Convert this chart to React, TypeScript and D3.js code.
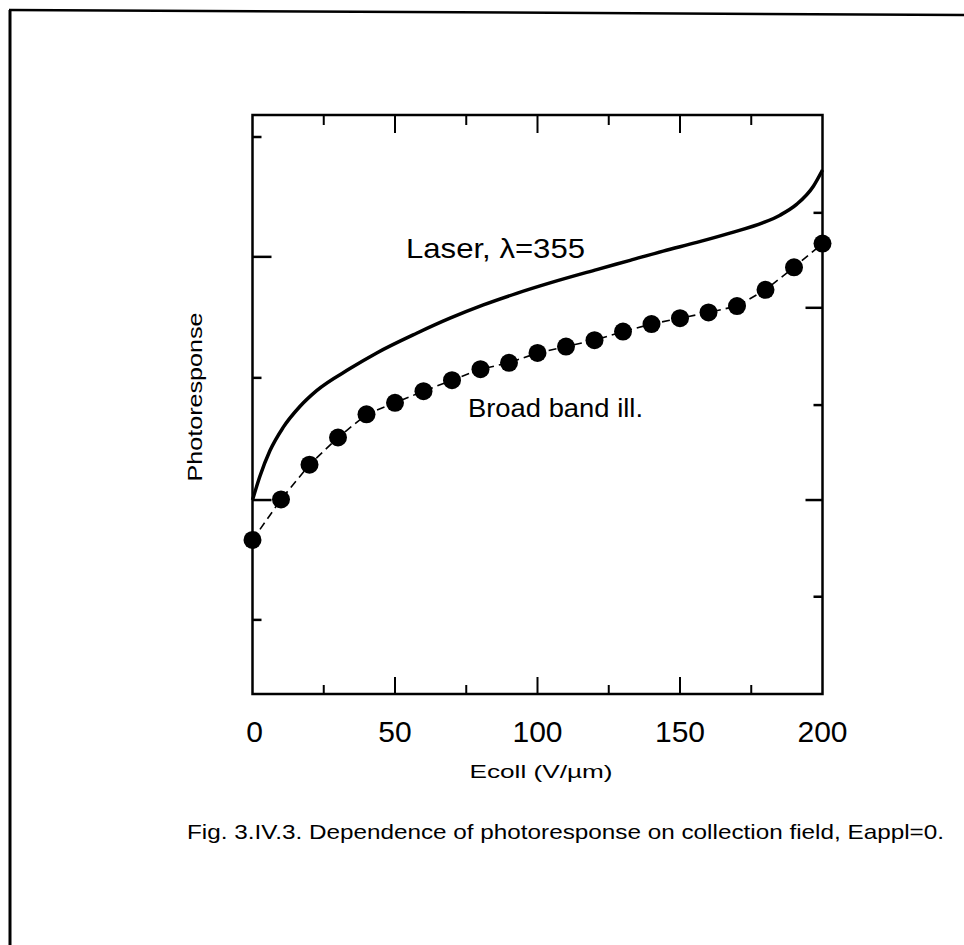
import React from "react";
import * as d3 from "d3";

// Laser (solid curve), x in V/um, y in arbitrary photoresponse units
const laserX = [0, 2.6, 6.1, 10.7, 16.7, 22.5, 34.2, 43.6, 57.6, 69.3, 81, 92.7, 104.4, 120.8, 132.5, 144.1, 155.9, 167.5, 179.2, 185.1, 191, 196.8, 200];
const laserY = [33.5, 37.6, 42.0, 46.0, 49.7, 52.4, 56.2, 58.9, 62.3, 64.9, 67.2, 69.2, 71.0, 73.3, 74.9, 76.5, 78.0, 79.6, 81.4, 82.7, 84.6, 87.7, 90.5];

// Broad band illumination (dots + dashed line)
const broadX = [0, 10, 20, 30, 40, 50, 60, 70, 80, 90, 100, 110, 120, 130, 140, 150, 160, 170, 180, 190, 200];
const broadY = [26.6, 33.6, 39.6, 44.3, 48.3, 50.3, 52.3, 54.2, 56.1, 57.2, 58.9, 60.0, 61.1, 62.6, 63.9, 64.9, 65.9, 67.0, 69.8, 73.7, 77.8];

const xTicks = [0, 25, 50, 75, 100, 125, 150, 175, 200];
const xTickLabels = ["0", "50", "100", "150", "200"];
const leftTicks = [12.8, 33.5, 54.6, 75.5, 96.2];
const leftMajor = [false, true, false, true, false];
const rightTicks = [16.8, 33.5, 49.9, 66.7, 83.1];
const rightMajor = [false, true, false, true, false];

const xLabel = "Ecoll  (V/\u00b5m)";
const yLabel = "Photoresponse";
const laserLabel = "Laser, \u03bb=355";
const broadLabel = "Broad band ill.";
const caption = "Fig. 3.IV.3. Dependence of photoresponse on collection field, Eappl=0.";

const FONT = "'Liberation Sans', Arial, Helvetica, sans-serif";

export default function App() {
  const W = 964, H = 945;
  const left = 252.5, right = 822.5, top = 115, bottom = 694;
  const x = d3.scaleLinear().domain([0, 200]).range([left, right]);
  const y = d3.scaleLinear().domain([0, 100]).range([bottom, top]);

  const laserLine = d3.line<number>()
    .x((_, i) => x(laserX[i]))
    .y((d) => y(d))
    .curve(d3.curveMonotoneX)(laserY) || "";

  const broadLine = d3.line<number>()
    .x((_, i) => x(broadX[i]))
    .y((d) => y(d))(broadY) || "";

  return (
    <svg width={W} height={H} style={{ position: "absolute", left: 0, top: 0, background: "#fff" }}
      fontFamily={FONT}>
      <rect x={0} y={0} width={W} height={H} fill="#fff" />
      {/* page frame */}
      <line x1={10} y1={10} x2={10} y2={H} stroke="#000" strokeWidth={3} />
      <line x1={9} y1={10} x2={W} y2={15} stroke="#000" strokeWidth={2.5} />

      {/* plot box */}
      <rect x={left} y={top} width={right - left} height={bottom - top} fill="none" stroke="#000" strokeWidth={2.5} />

      {/* x ticks bottom and top */}
      {xTicks.filter((t) => t > 0 && t < 200).map((t) => {
        const major = t % 50 === 0;
        const len = major ? 17 : 9;
        return (
          <g key={"xt" + t}>
            <line x1={x(t)} x2={x(t)} y1={bottom} y2={bottom - len} stroke="#000" strokeWidth={2} />
            <line x1={x(t)} x2={x(t)} y1={top} y2={top + len + 1} stroke="#000" strokeWidth={2} />
          </g>
        );
      })}
      {leftTicks.map((t, i) => (
        <line key={"lt" + i} x1={left} x2={left + (leftMajor[i] ? 19 : 9)} y1={y(t)} y2={y(t)} stroke="#000" strokeWidth={2.5} />
      ))}
      {rightTicks.map((t, i) => (
        <line key={"rt" + i} x1={right} x2={right - (rightMajor[i] ? 17 : 9)} y1={y(t)} y2={y(t)} stroke="#000" strokeWidth={2.5} />
      ))}

      {/* tick labels */}
      {xTickLabels.map((t) => (
        <text key={"xl" + t} x={x(+t) + (t === "0" ? 2 : 0)} y={742} fontSize={30} textAnchor="middle" fill="#000">{t}</text>
      ))}

      {/* axis titles */}
      <text x={541} y={778} fontSize={19} textAnchor="middle" fill="#000" textLength={143} lengthAdjust="spacingAndGlyphs">{xLabel}</text>
      <text transform="translate(202,397) rotate(-90)" fontSize={21} textAnchor="middle" fill="#000" textLength={169} lengthAdjust="spacingAndGlyphs">{yLabel}</text>

      {/* data */}
      <path d={broadLine} fill="none" stroke="#000" strokeWidth={1.6} strokeDasharray="8,5" />
      {broadY.map((v, i) => (
        <circle key={"c" + i} cx={x(broadX[i])} cy={y(v)} r={9} fill="#000" />
      ))}
      <path d={laserLine} fill="none" stroke="#000" strokeWidth={3.5} strokeLinejoin="round" />

      {/* series labels */}
      <text x={406} y={258} fontSize={28} fill="#000" textLength={179} lengthAdjust="spacingAndGlyphs">{laserLabel}</text>
      <text x={468} y={417} fontSize={25} fill="#000" textLength={175} lengthAdjust="spacingAndGlyphs">{broadLabel}</text>

      {/* caption */}
      <text x={187} y={839} fontSize={21} fill="#000" textLength={757} lengthAdjust="spacingAndGlyphs">{caption}</text>
    </svg>
  );
}
